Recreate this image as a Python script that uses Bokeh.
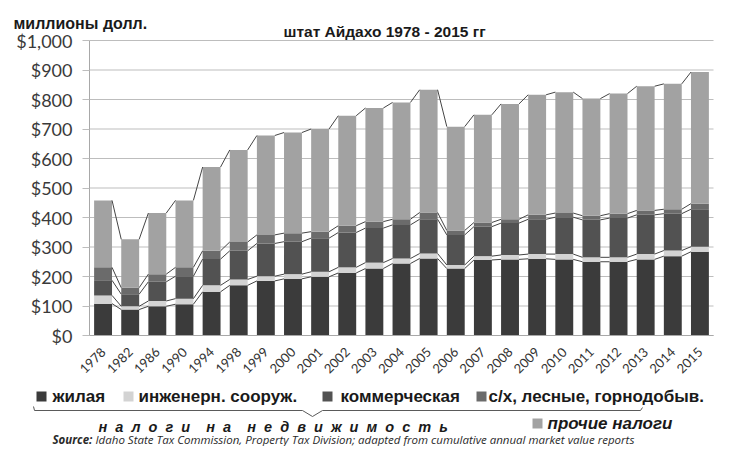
import math
import numpy as np
from bokeh.plotting import figure
from bokeh.models import Range1d, FixedTicker, NumeralTickFormatter, LinearAxis, ColumnDataSource
from bokeh.core.properties import value
from bokeh.embed import file_html
from bokeh.resources import INLINE

# ---------------- data (millions of dollars) ----------------
years = ["1978", "1982", "1986", "1990", "1994", "1998", "1999", "2000", "2001", "2002",
         "2003", "2004", "2005", "2006", "2007", "2008", "2009", "2010", "2011", "2012",
         "2013", "2014", "2015"]
residential = [108, 88, 99, 106, 148, 170, 185, 192, 199, 212, 227, 244, 261, 227, 256,
               258, 260, 258, 250, 250, 258, 269, 284]
infrastructure = [28, 11, 18, 19, 22, 20, 16, 16, 17, 19, 20, 17, 17, 12, 13, 15, 16, 18,
                  15, 15, 18, 19, 17]
commercial = [51, 41, 65, 76, 89, 97, 111, 110, 114, 118, 117, 114, 116, 102, 100, 108,
              118, 125, 127, 133, 133, 125, 127]
agricultural = [44, 22, 26, 30, 28, 30, 29, 29, 22, 23, 22, 19, 23, 15, 14, 13, 15, 14,
                14, 15, 15, 15, 19]
other = [227, 164, 207, 227, 284, 312, 337, 341, 348, 373, 385, 396, 416, 352, 365, 391,
         407, 410, 397, 407, 421, 425, 446]

series_names = ["жилая", "инженерн. сооруж.", "коммерческая",
                "с/х, лесные, горнодобыв.", "прочие налоги"]
series_colors = ["#3b3b3b", "#d3d3d3", "#525252", "#6b6b6b", "#a2a2a2"]
y_ticks = [0, 100, 200, 300, 400, 500, 600, 700, 800, 900, 1000]

unit_text = "миллионы долл."
title_text = "штат Айдахо 1978 - 2015 гг"
group_words = ["налоги", "на", "недвижимость"]
source_bold = "Source:"
source_rest = ("Idaho State Tax Commission, Property Tax Division; adapted from "
               "cumulative annual market value reports")

# ---------------- canvas: pixel coordinates, y downwards ----------------
W, H = 714, 446
p = figure(width=W, height=H, x_range=Range1d(0, W), y_range=Range1d(H, 0),
           x_axis_type=None, y_axis_type=None, min_border=0,
           output_backend="svg", toolbar_location=None)
p.grid.visible = False
p.outline_line_color = None
p.background_fill_color = "white"
p.border_fill_color = "white"

# chart area inside the canvas
CH_L, CH_R, CH_T, CH_B = 89, 713, 40, 335
n = len(years)
cat_lo, cat_hi = -0.5, n - 0.5
ppu = (CH_R - CH_L) / (cat_hi - cat_lo)
p.extra_x_ranges = {"cat": Range1d(cat_lo - CH_L / ppu, cat_hi + (W - CH_R) / ppu)}
usd_lo, usd_hi = y_ticks[0], y_ticks[-1]
ppd = (CH_B - CH_T) / (usd_hi - usd_lo)
p.extra_y_ranges = {"usd": Range1d(usd_lo - (H - CH_B) / ppd, usd_hi + CH_T / ppd)}

# horizontal gridlines at the tick values
p.segment(x0=[cat_lo] * len(y_ticks), y0=y_ticks, x1=[cat_hi] * len(y_ticks), y1=y_ticks,
          x_range_name="cat", y_range_name="usd", line_color="#bdbdbd", line_width=1)

xs = list(range(n))
keys = ["res", "inf", "com", "agr", "oth"]
src = ColumnDataSource(dict(x=xs, res=residential, inf=infrastructure,
                            com=commercial, agr=agricultural, oth=other))
BAR_W = 0.66
p.vbar_stack(keys, x="x", width=BAR_W, fill_color=series_colors, line_color=None,
             source=src, x_range_name="cat", y_range_name="usd")

# series lines connecting the tops of each stacked layer
cum = np.cumsum(np.array([residential, infrastructure, commercial, agricultural, other]), axis=0)
x0s, y0s, x1s, y1s = [], [], [], []
for layer in cum:
    for i in range(n - 1):
        x0s.append(i + BAR_W / 2)
        y0s.append(float(layer[i]))
        x1s.append(i + 1 - BAR_W / 2)
        y1s.append(float(layer[i + 1]))
p.segment(x0s, y0s, x1s, y1s, line_color="#454545", line_width=1,
          x_range_name="cat", y_range_name="usd")

# y axis
yax = LinearAxis(x_range_name="cat", y_range_name="usd", fixed_location=cat_lo,
                 bounds=(usd_lo, usd_hi), ticker=FixedTicker(ticks=y_ticks),
                 formatter=NumeralTickFormatter(format="$0,0"))
yax.major_tick_out = 7
yax.major_tick_in = 0
yax.major_tick_line_color = "#bdbdbd"
yax.minor_tick_line_color = None
yax.axis_line_color = "#a8a8a8"
yax.major_label_text_font = "Lato"
yax.major_label_text_font_size = "18px"
yax.major_label_text_color = "#3a3a3a"
yax.major_label_standoff = 10
p.add_layout(yax, "left")

# x axis
xax = LinearAxis(x_range_name="cat", y_range_name="usd", fixed_location=usd_lo,
                 bounds=(cat_lo, cat_hi), ticker=FixedTicker(ticks=xs))
xax.major_label_overrides = {i: y for i, y in enumerate(years)}
xax.major_label_orientation = math.pi / 4
xax.major_tick_line_color = None
xax.minor_tick_line_color = None
xax.axis_line_color = "#a8a8a8"
xax.major_label_text_font = "Lato"
xax.major_label_text_font_size = "13px"
xax.major_label_text_color = "#333333"
xax.major_label_standoff = 8
p.add_layout(xax, "below")

TXT = "#1a1a1a"
# header texts
p.text(x=[13], y=[23], text=[unit_text], text_font=value("Liberation Sans"),
       text_font_style="bold", text_font_size="16px", text_baseline="middle",
       text_align="left", text_color=TXT)
p.text(x=[283], y=[31], text=[title_text], text_font=value("Liberation Sans"),
       text_font_style="bold", text_font_size="15.5px", text_baseline="middle",
       text_align="left", text_color=TXT)

# legend row 1 (property-tax components)
ROW1 = 396
p.rect(x=[41, 128, 327, 481], y=[ROW1] * 4, width=10, height=10,
       fill_color=series_colors[:4], line_color=None)
p.text(x=[52, 138, 340, 488], y=[ROW1] * 4, text=series_names[:4],
       text_font=value("Liberation Sans"), text_font_style="bold",
       text_font_size="17px", text_baseline="middle", text_align="left", text_color=TXT)

# brace under property-tax items
p.line(x=[33, 34, 302, 312, 322, 640, 642], y=[406, 410, 410, 416, 410, 410, 407],
       line_color="#5a5a5a", line_width=1)

NB = "\u00a0"
group_text = (NB * 4).join((NB * 2).join(w) for w in group_words)
p.text(x=[98], y=[426], text=[group_text], text_font=value("Liberation Sans"),
       text_font_style="bold italic", text_font_size="14.5px", text_baseline="middle",
       text_align="left", text_color=TXT)

p.rect(x=[537], y=[423], width=10, height=10, fill_color=series_colors[4], line_color=None)
p.text(x=[547], y=[423], text=[series_names[4]], text_font=value("Liberation Sans"),
       text_font_style="bold italic", text_font_size="17px", text_baseline="middle",
       text_align="left", text_color=TXT)

# source line
p.text(x=[52], y=[439], text=[source_bold], text_font=value("Open Sans"),
       text_font_style="bold italic", text_font_size="11.5px", text_baseline="middle",
       text_align="left", text_color="#2a2a2a")
p.text(x=[95], y=[439], text=[source_rest], text_font=value("Open Sans"),
       text_font_style="italic", text_font_size="11.5px", text_baseline="middle",
       text_align="left", text_color="#2a2a2a")

open("out.html", "w").write(file_html(p, INLINE))
